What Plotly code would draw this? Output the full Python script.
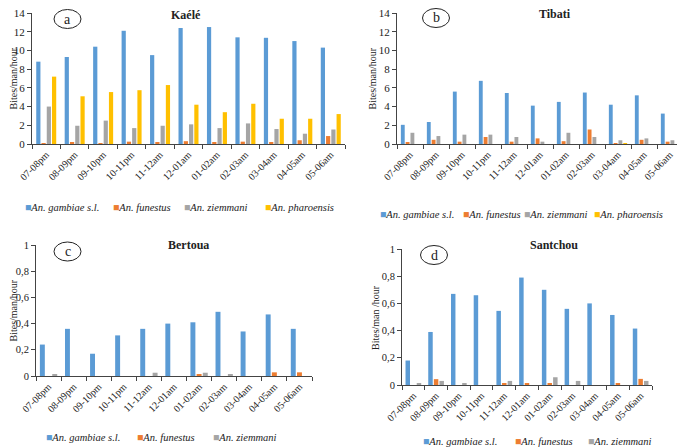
import plotly.graph_objects as go

# the page puts an 8px body margin around the figure, so the figure is a bit
# smaller than the window and every pixel position below is shifted by it
PAGE_W, PAGE_H = 685, 448
OFF = 8
W, H = PAGE_W - OFF, PAGE_H - OFF

hours = ["07-08pm", "08-09pm", "09-10pm", "10-11pm", "11-12am", "12-01am",
         "01-02am", "02-03am", "03-04am", "04-05am", "05-06am"]

species = ["An. gambiae s.l.", "An. funestus", "An. ziemmani", "An. pharoensis"]
colors = ["#5B9BD5", "#ED7D31", "#A5A5A5", "#FFC000"]

# Kaélé
kaele_gambiae = [8.8, 9.3, 10.4, 12.1, 9.5, 12.4, 12.5, 11.4, 11.35, 11.0, 10.3]
kaele_funestus = [0.05, 0.15, 0.05, 0.25, 0.2, 0.3, 0.15, 0.25, 0.15, 0.4, 0.85]
kaele_ziemmani = [4.0, 1.95, 2.5, 1.7, 1.95, 2.1, 1.7, 2.2, 1.6, 1.1, 1.55]
kaele_pharoensis = [7.2, 5.1, 5.55, 5.75, 6.3, 4.2, 3.4, 4.3, 2.7, 2.7, 3.2]

# Tibati
tibati_gambiae = [2.05, 2.35, 5.6, 6.75, 5.45, 4.1, 4.5, 5.5, 4.2, 5.2, 3.25]
tibati_funestus = [0.2, 0.45, 0.25, 0.75, 0.25, 0.6, 0.3, 1.55, 0.05, 0.45, 0.25]
tibati_ziemmani = [1.2, 0.85, 1.0, 1.0, 0.75, 0.25, 1.2, 0.75, 0.4, 0.6, 0.4]
tibati_pharoensis = [0, 0, 0, 0, 0, 0, 0, 0, 0.05, 0, 0]

# Bertoua
bertoua_gambiae = [0.24, 0.36, 0.17, 0.31, 0.36, 0.40, 0.41, 0.49, 0.34, 0.47, 0.36]
bertoua_funestus = [0, 0, 0, 0, 0, 0, 0.013, 0, 0, 0.028, 0.028]
bertoua_ziemmani = [0.015, 0, 0, 0, 0.025, 0, 0.025, 0.015, 0, 0, 0]

# Santchou
santchou_gambiae = [0.18, 0.39, 0.67, 0.66, 0.545, 0.79, 0.70, 0.56, 0.60, 0.515, 0.415]
santchou_funestus = [0, 0.043, 0, 0, 0.01, 0.01, 0.01, 0, 0, 0.01, 0.045]
santchou_ziemmani = [0.012, 0.03, 0.012, 0, 0.03, 0, 0.057, 0.03, 0, 0, 0.03]

# positions are in page pixels (as measured on the reference)
panels = [
    dict(name="Kaélé", letter="a", series=[kaele_gambiae, kaele_funestus, kaele_ziemmani, kaele_pharoensis],
         x=(32, 345), y=(13, 144), ymax=14, ytitle="Bites/man/hour", ytx=13, tfs=11,
         title_xy=(186, 15), circ=(67.5, 19), leg_y=207, leg_xs=[25, 113, 184, 265]),
    dict(name="Tibati", letter="b", series=[tibati_gambiae, tibati_funestus, tibati_ziemmani, tibati_pharoensis],
         x=(397, 683), y=(13, 144), ymax=14, ytitle="Bites/man/hour", ytx=372, tfs=11,
         title_xy=(555, 14), circ=(436, 18), leg_y=214, leg_xs=[380, 463, 524, 594]),
    dict(name="Bertoua", letter="c", series=[bertoua_gambiae, bertoua_funestus, bertoua_ziemmani],
         x=(36, 312), y=(245, 376), ymax=1, ytitle="Bites/man/hour", ytx=13, tfs=10.5,
         title_xy=(188, 245), circ=(67.5, 251.5), leg_y=437, leg_xs=[46, 137, 213]),
    dict(name="Santchou", letter="d", series=[santchou_gambiae, santchou_funestus, santchou_ziemmani],
         x=(402, 652), y=(249, 385), ymax=1, ytitle="Bites/man /hour", ytx=375, tfs=10.5,
         title_xy=(554, 245), circ=(434, 255), leg_y=441, leg_xs=[423, 515, 588]),
]

SERIF = "Liberation Serif"

fig = go.Figure()
annotations = []
shapes = []
layout = dict(
    width=W, height=H, margin=dict(l=0, r=0, t=0, b=0, autoexpand=False),
    plot_bgcolor="white", paper_bgcolor="white",
    font=dict(family=SERIF, size=11, color="#222222"),
    barmode="group", showlegend=False,
)


def fx(p):
    return (p - OFF) / W


def fy(p):
    return min(1.0, 1 - (p - OFF) / H)


for i, p in enumerate(panels):
    n = i + 1
    xa = "x" if n == 1 else f"x{n}"
    ya = "y" if n == 1 else f"y{n}"
    for k, vals in enumerate(p["series"]):
        fig.add_trace(go.Bar(
            x=hours, y=vals, name=species[k], marker_color=colors[k],
            marker_line_width=0, xaxis=xa, yaxis=ya,
        ))
    layout["xaxis" if n == 1 else f"xaxis{n}"] = dict(
        domain=[fx(p["x"][0]), min(1.0, fx(p["x"][1]))], anchor=ya,
        type="category", tickangle=-45, tickson="boundaries",
        ticks="outside", ticklen=4, tickcolor="#444", showline=True,
        linecolor="#444", linewidth=1, tickfont=dict(size=10, family=SERIF),
        showgrid=False, automargin=False, ticklabeloverflow="allow",
    )
    if p["ymax"] == 1:
        tv = [0, 0.2, 0.4, 0.6, 0.8, 1]
        tt = ["0", "0,2", "0,4", "0,6", "0,8", "1"]
    else:
        tv = list(range(0, 15, 2))
        tt = [str(v) for v in tv]
    layout["yaxis" if n == 1 else f"yaxis{n}"] = dict(
        domain=[fy(p["y"][1]), fy(p["y"][0])], anchor=xa,
        range=[0, p["ymax"]], tickvals=tv, ticktext=tt,
        ticks="outside", ticklen=4, tickcolor="#444", showline=True,
        linecolor="#444", linewidth=1, showgrid=False, zeroline=False,
        tickfont=dict(size=p["tfs"], family=SERIF), automargin=False,
        ticklabeloverflow="allow",
    )
    # legend entries, one per series
    for k in range(len(p["series"])):
        annotations.append(dict(
            text=f'<span style="color:{colors[k]}">■</span><i>{species[k]}</i>',
            x=fx(p["leg_xs"][k]), y=fy(p["leg_y"]), xref="paper", yref="paper",
            showarrow=False, xanchor="left", yanchor="middle",
            font=dict(size=10.5, family=SERIF), xshift=-2,
        ))
    annotations.append(dict(
        text=f"<b>{p['name']}</b>", x=fx(p["title_xy"][0]), y=fy(p["title_xy"][1]),
        xref="paper", yref="paper", showarrow=False, font=dict(size=12, family=SERIF),
        xanchor="center", yanchor="middle",
    ))
    annotations.append(dict(
        text=p["ytitle"], x=fx(p["ytx"]), y=(fy(p["y"][0]) + fy(p["y"][1])) / 2,
        xref="paper", yref="paper", showarrow=False, textangle=-90,
        font=dict(size=10, family=SERIF), xanchor="center", yanchor="middle",
    ))
    cx, cy = p["circ"]
    shapes.append(dict(
        type="circle", xref="paper", yref="paper",
        x0=fx(cx - 13.5), x1=fx(cx + 13.5), y0=fy(cy + 9.5), y1=fy(cy - 9.5),
        line=dict(color="#222", width=1),
    ))
    annotations.append(dict(
        text=p["letter"], x=fx(cx), y=fy(cy), xref="paper", yref="paper",
        showarrow=False, font=dict(size=14, family=SERIF),
        xanchor="center", yanchor="middle",
    ))

layout["bargap"] = 0.26
layout["bargroupgap"] = 0.2
layout["annotations"] = annotations
layout["shapes"] = shapes
fig.update_layout(**layout)

fig.write_html("out.html")
